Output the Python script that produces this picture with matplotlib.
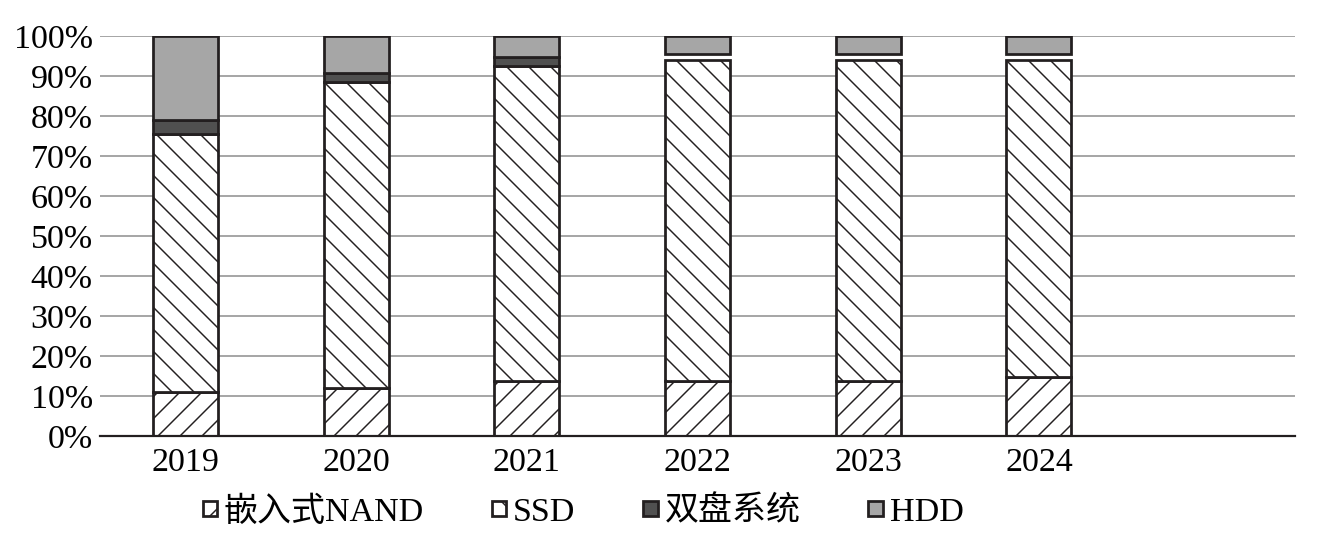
import matplotlib.pyplot as plt
import numpy as np

years = ['2019', '2020', '2021', '2022', '2023', '2024']
nand = [11, 12, 13.75, 13.75, 13.75, 14.75]
ssd = [64.5, 76.5, 78.75, 80.25, 80.25, 79.25]
dual = [3.5, 2.3, 2.25, 0, 0, 0]
hdd = [21, 9.2, 5.25, 4.4, 4.5, 4.4]

series_names = ['嵌入式NAND', 'SSD', '双盘系统', 'HDD']

EDGE = '#231f20'
FONT = ['Liberation Serif', 'Noto Sans CJK SC']
FS = 18.5

plt.rcParams['font.family'] = FONT
plt.rcParams['hatch.linewidth'] = 0.8

fig = plt.figure(figsize=(10, 534 / 132.3), dpi=132.3)
ax = fig.add_axes([100 / 1323, 98 / 534, 1195 / 1323, 400 / 534])

x = np.arange(len(years)) + 0.5
width = 0.38
nand = np.array(nand)
ssd = np.array(ssd)
dual = np.array(dual)
hdd = np.array(hdd)

common = dict(width=width, edgecolor=EDGE, linewidth=1.5, zorder=3)
ax.bar(x, nand, facecolor='white', hatch='//', label=series_names[0], **common)
ax.bar(x, ssd, bottom=nand, facecolor='white', hatch='\\\\', label=series_names[1], **common)
# segments that are zero are skipped so they leave no outline
mask = dual > 0
ax.bar(x[mask], dual[mask], bottom=(nand + ssd)[mask], facecolor='#505050',
       label=series_names[2], **common)
# HDD is anchored at the top of the 100% column
ax.bar(x, hdd, bottom=100 - hdd, facecolor='#a6a6a6', label=series_names[3], **common)

ax.set_xlim(0, 7)
ax.set_ylim(0, 100)
ax.set_xticks(x)
ax.set_xticklabels(years)
ax.set_yticks(np.arange(0, 101, 10))
ax.set_yticklabels([f'{v}%' for v in range(0, 101, 10)])
ax.tick_params(axis='both', length=0, labelsize=FS, pad=4)
ax.tick_params(axis='x', pad=6)
ax.yaxis.grid(True, color='#a0a0a0', linewidth=1.0, zorder=0)
ax.set_axisbelow(True)
for side in ['top', 'right', 'left']:
    ax.spines[side].set_visible(False)
ax.spines['bottom'].set_color(EDGE)
ax.spines['bottom'].set_linewidth(1.2)
ax.spines['bottom'].set_zorder(4)

leg = ax.legend(loc='center', bbox_to_anchor=(483 / 1195, -0.19), ncol=4,
                frameon=False, fontsize=FS, handlelength=0.42, handleheight=0.3,
                handletextpad=0.2, columnspacing=2.0)
for h in leg.legend_handles:
    h.set_linewidth(1.5)

fig.savefig('out.png', dpi=132.3)
